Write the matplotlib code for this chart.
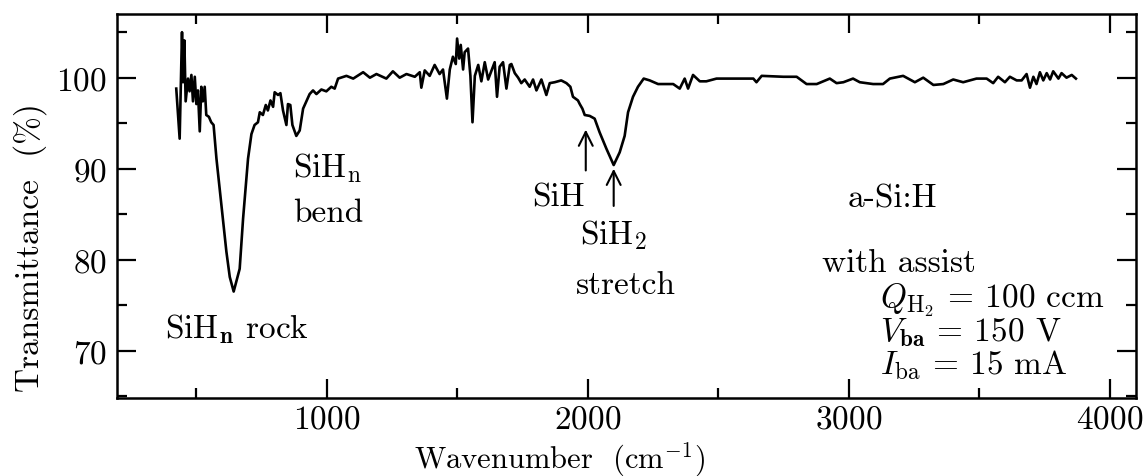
import matplotlib
matplotlib.use("Agg")
import matplotlib.pyplot as plt
from matplotlib.ticker import MultipleLocator

plt.rcParams['font.family'] = 'serif'
plt.rcParams['font.serif'] = ['cmr10', 'DejaVu Serif']
plt.rcParams['mathtext.fontset'] = 'cm'
plt.rcParams['axes.formatter.use_mathtext'] = True
plt.rcParams['font.size'] = 24

# IR spectrum
wavenumber = [423, 436, 445, 449, 454, 459, 468, 474, 481, 487, 494, 500, 506, 513, 519, 525,
              532, 538, 548, 557, 566, 577, 596, 615, 628, 643, 653, 659, 666, 679, 698, 711,
              723, 736, 743, 755, 766, 774, 784, 794, 800, 813, 822, 832, 845, 851, 860, 868,
              883, 896, 909, 934, 947, 960, 979, 998, 1017, 1030, 1043, 1075, 1101, 1139, 1165,
              1190, 1228, 1253, 1279, 1305, 1337, 1356, 1362, 1375, 1394, 1413, 1432, 1445, 1460,
              1471, 1483, 1494, 1499, 1507, 1513, 1522, 1528, 1541, 1550, 1558, 1567, 1580, 1592,
              1605, 1618, 1631, 1643, 1652, 1662, 1675, 1688, 1701, 1707, 1720, 1733, 1745, 1758,
              1777, 1790, 1803, 1822, 1841, 1854, 1873, 1898, 1918, 1933, 1943, 1962, 1969, 1979,
              1988, 2007, 2026, 2045, 2071, 2099, 2122, 2141, 2154, 2173, 2192, 2214, 2237, 2269,
              2327, 2352, 2371, 2384, 2403, 2429, 2454, 2493, 2557, 2634, 2646, 2666, 2749, 2800,
              2838, 2877, 2927, 2953, 2979, 3016, 3042, 3093, 3131, 3157, 3208, 3253, 3285, 3324,
              3362, 3400, 3438, 3489, 3528, 3553, 3572, 3598, 3617, 3643, 3662, 3681, 3694, 3707,
              3719, 3732, 3745, 3758, 3771, 3783, 3803, 3815, 3834, 3854, 3870]
transmittance = [98.8, 93.3, 105.0, 99.5, 104.1, 97.4, 99.9, 98.5, 100.3, 97.4, 100.1, 97.1, 98.6,
                 94.1, 99.0, 97.4, 99.0, 95.9, 95.7, 95.1, 94.8, 91.1, 86.0, 80.9, 78.1, 76.5,
                 77.6, 78.3, 79.0, 84.5, 91.1, 93.8, 94.8, 95.1, 96.2, 95.9, 97.0, 96.4, 97.5,
                 96.8, 98.4, 98.1, 98.3, 96.4, 94.8, 97.1, 97.0, 94.8, 93.6, 94.2, 96.6, 98.2,
                 98.6, 98.2, 98.7, 98.5, 99.0, 98.8, 99.9, 100.2, 99.9, 100.6, 100.0, 100.4, 99.9,
                 100.7, 100.0, 100.4, 100.1, 100.6, 98.9, 100.8, 100.2, 101.4, 100.4, 100.9, 97.7,
                 100.9, 102.3, 101.5, 104.3, 102.1, 103.6, 100.9, 102.8, 103.2, 100.2, 95.1,
                 100.2, 101.4, 99.6, 101.7, 99.8, 100.8, 101.7, 97.9, 101.2, 101.7, 98.8, 101.4,
                 101.5, 100.5, 100.0, 99.4, 99.8, 99.0, 99.8, 98.6, 99.8, 98.1, 99.4, 99.5, 99.7,
                 99.4, 99.0, 97.9, 97.5, 97.1, 96.6, 95.9, 95.8, 95.5, 94.0, 92.2, 90.4, 91.8,
                 93.6, 96.2, 97.9, 99.0, 99.9, 99.7, 99.3, 99.3, 98.8, 99.9, 98.8, 100.3, 99.6,
                 99.6, 99.9, 99.9, 99.9, 99.5, 100.2, 100.1, 100.1, 99.3, 99.3, 99.9, 99.4, 99.5,
                 99.9, 99.5, 99.3, 99.3, 99.9, 100.2, 99.5, 100.0, 99.2, 99.3, 99.8, 99.5, 99.9,
                 99.9, 99.4, 100.1, 99.5, 100.1, 99.7, 99.7, 100.4, 98.9, 100.1, 99.3, 100.6,
                 99.7, 100.5, 99.8, 100.7, 99.9, 100.5, 100.0, 100.3, 99.9]

# peak markers (wavenumber, arrow tip, arrow tail)
arrow_x = [1992, 2099]
arrow_tip = [94.6, 90.3]
arrow_tail = [89.5, 85.6]

fig = plt.figure(figsize=(11.48, 4.77), dpi=100)
ax = fig.add_axes([0.1017, 0.1635, 0.8878, 0.8051])

ax.plot(wavenumber, transmittance, color='black', lw=1.9)

ax.set_xlim(195, 4100)
ax.set_ylim(64.8, 107)
ax.xaxis.set_major_locator(MultipleLocator(1000))
ax.xaxis.set_minor_locator(MultipleLocator(500))
ax.yaxis.set_major_locator(MultipleLocator(10))
ax.yaxis.set_minor_locator(MultipleLocator(5))
ax.tick_params(which='both', direction='in', top=True, right=True, width=1.6)
ax.tick_params(which='major', length=14, labelsize=24)
ax.tick_params(axis='x', which='major', pad=5)
ax.tick_params(axis='y', which='major', pad=7)
ax.tick_params(which='minor', length=7)
for s in ax.spines.values():
    s.set_linewidth(1.8)

ax.set_xlabel(r'Wavenumber  (cm$^{-1}$)', fontsize=22)
ax.set_ylabel('Transmittance  (%)', fontsize=24)
ax.xaxis.set_label_coords(0.434, -0.108)
ax.yaxis.set_label_coords(-0.068, 0.395)

# band labels
ax.text(378, 71.5, r'SiH$_\mathbf{n}$ rock')
ax.text(869, 89.2, r'SiH$_\mathrm{n}$')
ax.text(869, 84.3, 'bend')
ax.text(1785, 85.9, 'SiH')
ax.text(1969, 81.8, r'SiH$_2$')
ax.text(1954, 76.3, 'stretch')
ax.text(2996, 85.8, 'a-Si:H')
ax.text(2896, 78.8, 'with assist')
ax.text(3119, 74.9, r'$Q_{\mathrm{H}_2}$ = 100 ccm')
ax.text(3119, 71.1, r'$V_{\mathbf{ba}}$ = 150 V')
ax.text(3119, 67.5, r'$I_{\mathrm{ba}}$ = 15 mA')

for xa, tip, tail in zip(arrow_x, arrow_tip, arrow_tail):
    ax.annotate('', xy=(xa, tip), xytext=(xa, tail),
                arrowprops=dict(arrowstyle='->', color='black', lw=1.5,
                                mutation_scale=25))

fig.savefig('out.png', dpi=100)
